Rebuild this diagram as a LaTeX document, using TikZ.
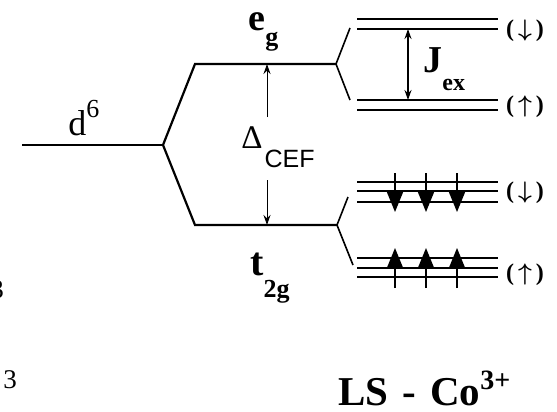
\documentclass[tikz,border=0pt]{standalone}
\usepackage{fontspec}
\setmainfont{Liberation Serif}
\newfontfamily\cefsans{Liberation Sans}
\usetikzlibrary{positioning,arrows.meta}

\tikzset{
  level/.style={line width=1.1pt},
  split/.style={line width=0.8pt},
  gaparrow/.style={line width=0.5pt, -{Stealth[length=5pt,width=3.5pt]}},
  jarrow/.style={line width=0.6pt, {Stealth[length=5pt,width=3.5pt]}-{Stealth[length=5pt,width=3.5pt]}},
  spinarrow/.style={line width=0.7pt, -{Triangle[length=10pt,width=8pt]}},
  lbl/.style={inner sep=0pt, anchor=base west},
  spinlbl/.style={inner sep=0pt, font=\fontsize{12}{12}\selectfont\bfseries\boldmath},
}

\begin{document}
\begin{tikzpicture}[x=0.5pt, y=-0.5pt]
    \useasboundingbox (0,0) rectangle (557,412);

    % crystal field splitting
    \coordinate (dL) at (22,145);
    \coordinate (dR) at (163,145);
    \coordinate (egL) at (195,64);
    \coordinate (egR) at (336,64);
    \coordinate (tL) at (195,225);
    \coordinate (tR) at (337,225);
    \draw[level] (dL) -- (dR);
    \draw[level] (dR) -- (egL) -- (egR);
    \draw[level] (dR) -- (tL) -- (tR);

    % exchange splitting
    \coordinate (egUp) at (350,28);
    \coordinate (egDn) at (350,100);
    \coordinate (tUp) at (348,197);
    \coordinate (tDn) at (353,265);
    \draw[split] (egUp) -- (egR) -- (egDn);
    \draw[split] (tUp) -- (tR) -- (tDn);
    \foreach \y in {19,29,100,110,182,191,202,258,268,277}
        \draw[level] (357,\y) -- (498,\y);

    % electrons
    \foreach \x in {395,426,457} {
        \draw[spinarrow] (\x,173) -- (\x,212);
        \draw[spinarrow] (\x,288) -- (\x,248);
    }

    % labels
    \node[lbl] (d6) at (68,135) {\fontsize{18}{18}\selectfont d\raisebox{0.5em}{\fontsize{13}{13}\selectfont 6}};
    \node[lbl] (eg) at (248,30) {\fontsize{19}{19}\selectfont\bfseries e\raisebox{-8pt}{\fontsize{13}{13}\selectfont g}};
    \node[lbl] (t2g) at (250,275) {\fontsize{20}{20}\selectfont\bfseries t\raisebox{-11pt}{\fontsize{13}{13}\selectfont 2g}};
    \node[lbl] (dcef) at (241,148) {\fontsize{16.5}{16.5}\selectfont Δ\hspace{1pt}\raisebox{-9.5pt}{\fontsize{12.5}{12.5}\selectfont\cefsans CEF}};
    \node[lbl] (jex) at (423,72) {\fontsize{19}{19}\selectfont\bfseries J\raisebox{-9pt}{\fontsize{12}{12}\selectfont ex}};
    \node[lbl] (ls) at (338,405) {\fontsize{20.5}{20.5}\selectfont\bfseries LS\hspace{7pt}-\hspace{7pt}Co\raisebox{8pt}{\fontsize{14}{14}\selectfont 3+}};

    \node[spinlbl] (egdn) at (525,31) {(\hspace{2pt}$\downarrow$\hspace{2pt})};
    \node[spinlbl] (egup) at (525,107) {(\hspace{2pt}$\uparrow$\hspace{2pt})};
    \node[spinlbl] (tdn) at (525,193) {(\hspace{2pt}$\downarrow$\hspace{2pt})};
    \node[spinlbl] (tup) at (525,275) {(\hspace{2pt}$\uparrow$\hspace{2pt})};

    % cut-off text at the left edge
    \node[lbl] (cutA) at (-10,298) {\fontsize{13.5}{13.5}\selectfont 3};
    \node[lbl] (cutB) at (3,388) {\fontsize{13.5}{13.5}\selectfont 3};

    % gaps
    \coordinate (gapT) at (267,64);
    \coordinate (gapB) at (267,225);
    \draw[gaparrow] (267,117) -- (gapT);
    \draw[gaparrow] (267,180) -- (gapB);
    \coordinate (jT) at (408,29);
    \coordinate (jB) at (408,100);
    \draw[jarrow] (jT) -- (jB);
\end{tikzpicture}
\end{document}
